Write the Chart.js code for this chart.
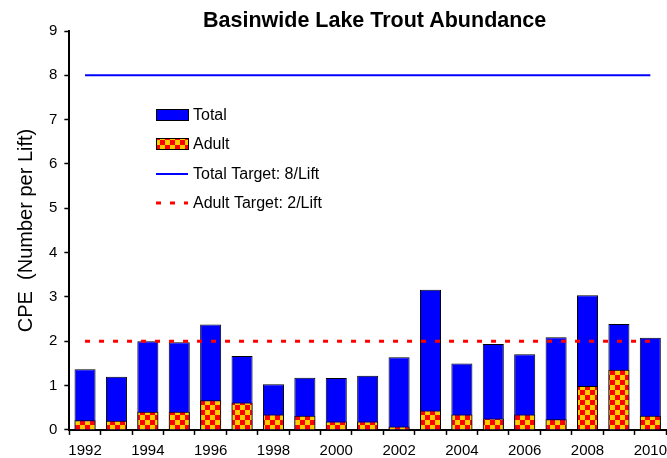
<!DOCTYPE html>
<html>
<head>
<meta charset="utf-8">
<script src="https://cdn.jsdelivr.net/npm/chart.js@4.4.1/dist/chart.umd.min.js"></script>
<style>
  html, body { margin: 0; padding: 0; background: #fff; }
  #wrap { position: relative; width: 667px; height: 458px; }
  #title {
    position: absolute; left: 203px; top: 8px; white-space: nowrap;
    font: bold 21.5px Arial, "Liberation Sans", sans-serif; color: #000;
  }
</style>
</head>
<body>
<div id="wrap">
  <canvas id="chart" width="667" height="458"></canvas>
  <div id="title">Basinwide Lake Trout Abundance</div>
</div>
<script>
// data
const years = ["1992", "1993", "1994", "1995", "1996", "1997", "1998", "1999", "2000", "2001",
               "2002", "2003", "2004", "2005", "2006", "2007", "2008", "2009", "2010"];
const totalCPE = [1.37, 1.20, 2.00, 1.98, 2.38, 1.67, 1.03, 1.18, 1.17, 1.22,
                  1.64, 3.16, 1.50, 1.94, 1.71, 2.09, 3.04, 2.39, 2.08];
const adultCPE = [0.22, 0.21, 0.41, 0.41, 0.67, 0.62, 0.35, 0.32, 0.19, 0.19,
                  0.08, 0.44, 0.35, 0.26, 0.35, 0.24, 0.99, 1.36, 0.32];
const totalTarget = [8, 8, 8, 8, 8, 8, 8, 8, 8, 8, 8, 8, 8, 8, 8, 8, 8, 8, 8];
const adultTarget = [2, 2, 2, 2, 2, 2, 2, 2, 2, 2, 2, 2, 2, 2, 2, 2, 2, 2, 2];
const yTicks = [0, 1, 2, 3, 4, 5, 6, 7, 8, 9];

const FONT = "Arial, 'Liberation Sans', sans-serif";
const BLUE = "#0000ff";
const RED = "#ff0000";

// red / yellow checkerboard fill for the adult bars
function checker(size) {
  const c = document.createElement("canvas");
  c.width = size * 2; c.height = size * 2;
  const g = c.getContext("2d");
  g.fillStyle = "#ffcc00";
  g.fillRect(0, 0, size * 2, size * 2);
  g.fillStyle = RED;
  g.fillRect(0, 0, size, size);
  g.fillRect(size, size, size, size);
  return document.getElementById("chart").getContext("2d").createPattern(c, "repeat");
}
const adultFill = checker(5);

// legend sits inside the plot, drawn by hand
const insideLegend = {
  id: "insideLegend",
  afterDraw(chart) {
    const ctx = chart.ctx;
    const x0 = 156, w = 32, tx = 193;
    const rows = [
      { text: "Total", y: 115, kind: "box", fill: BLUE },
      { text: "Adult", y: 144, kind: "box", fill: adultFill },
      { text: "Total Target: 8/Lift", y: 174, kind: "line" },
      { text: "Adult Target: 2/Lift", y: 203, kind: "dash" }
    ];
    ctx.save();
    rows.forEach(r => {
      if (r.kind === "box") {
        ctx.fillStyle = r.fill;
        ctx.fillRect(x0, r.y - 5, w, 10);
        ctx.strokeStyle = "#000";
        ctx.lineWidth = 1;
        ctx.strokeRect(x0 + 0.5, r.y - 5.5, w, 11);
      } else {
        ctx.beginPath();
        ctx.moveTo(x0, r.y);
        ctx.lineTo(x0 + w, r.y);
        if (r.kind === "line") {
          ctx.strokeStyle = BLUE; ctx.lineWidth = 2; ctx.setLineDash([]);
        } else {
          ctx.strokeStyle = RED; ctx.lineWidth = 3; ctx.setLineDash([5, 9]);
        }
        ctx.stroke();
        ctx.setLineDash([]);
      }
      ctx.fillStyle = "#000";
      ctx.font = "16px " + FONT;
      ctx.textBaseline = "middle";
      ctx.textAlign = "left";
      ctx.fillText(r.text, tx, r.y + 1);
    });
    ctx.restore();
  }
};

new Chart(document.getElementById("chart"), {
  type: "bar",
  data: {
    labels: years,
    datasets: [
      {
        type: "line",
        label: "Total Target: 8/Lift",
        data: totalTarget,
        borderColor: BLUE,
        borderWidth: 2,
        pointRadius: 0,
        fill: false,
        order: 0
      },
      {
        type: "line",
        label: "Adult Target: 2/Lift",
        data: adultTarget,
        borderColor: RED,
        borderWidth: 3,
        borderDash: [5, 9],
        pointRadius: 0,
        fill: false,
        order: 0
      },
      {
        label: "Adult",
        data: adultCPE,
        backgroundColor: adultFill,
        borderColor: "#000",
        borderWidth: 1,
        grouped: false,
        categoryPercentage: 1,
        barPercentage: 0.67,
        order: 1
      },
      {
        label: "Total",
        data: totalCPE,
        backgroundColor: BLUE,
        borderColor: "#000",
        borderWidth: 1,
        grouped: false,
        categoryPercentage: 1,
        barPercentage: 0.67,
        order: 2
      }
    ]
  },
  options: {
    responsive: false,
    animation: false,
    layout: { padding: { left: 10, right: 0, top: 31, bottom: -8 } },
    plugins: {
      legend: { display: false },
      tooltip: { enabled: false }
    },
    scales: {
      x: {
        offset: true,
        grid: {
          display: true,
          offset: true,
          drawOnChartArea: false,
          drawTicks: true,
          tickLength: 5,
          tickWidth: 1.5,
          color: "#000"
        },
        border: { display: true, color: "#000", width: 2 },
        ticks: {
          autoSkip: false,
          maxRotation: 0,
          color: "#000",
          padding: 0,
          font: { family: FONT, size: 15, lineHeight: 2.07 },
          callback: function (v, i) {
            const y = years[i];
            return Number(y) % 2 === 0 ? y : "";
          }
        }
      },
      y: {
        min: yTicks[0],
        max: yTicks[yTicks.length - 1],
        afterBuildTicks: s => { s.ticks = yTicks.map(v => ({ value: v })); },
        grid: {
          display: true,
          drawOnChartArea: false,
          drawTicks: true,
          tickLength: 5,
          tickWidth: 1.5,
          color: "#000"
        },
        border: { display: true, color: "#000", width: 2 },
        ticks: {
          color: "#000",
          padding: 7,
          font: { family: FONT, size: 15 }
        },
        title: {
          display: true,
          text: "CPE  (Number per Lift)",
          color: "#000",
          font: { family: FONT, size: 20 },
          padding: { top: 4, bottom: 4 }
        }
      }
    }
  },
  plugins: [insideLegend]
});
</script>
</body>
</html>
